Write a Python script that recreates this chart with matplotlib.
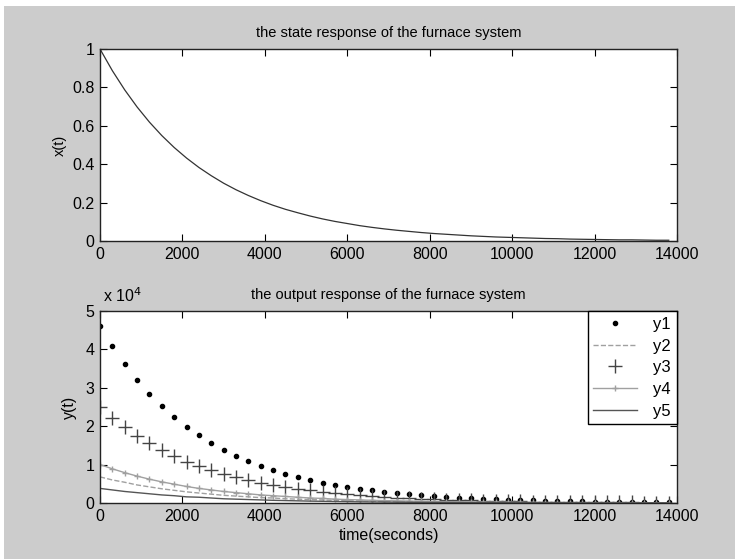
import matplotlib.pyplot as plt
from matplotlib.patches import Rectangle
import numpy as np

plt.rcParams['font.family'] = ['Liberation Sans Narrow', 'Liberation Sans', 'DejaVu Sans']

# sample step of the simulation (seconds)
dt = 300

# state x(t)
x_state = [1.000, 0.887, 0.787, 0.698, 0.619, 0.549, 0.487, 0.432, 0.383, 0.340,
           0.301, 0.267, 0.237, 0.210, 0.186, 0.165, 0.147, 0.130, 0.115, 0.102,
           0.091, 0.080, 0.071, 0.063, 0.056, 0.050, 0.044, 0.039, 0.035, 0.031,
           0.027, 0.024, 0.021, 0.019, 0.017, 0.015, 0.013, 0.012, 0.010, 0.009,
           0.008, 0.007, 0.006, 0.006, 0.005, 0.004, 0.004]

# outputs, in units of 1e4
y1 = [4.60, 4.08, 3.62, 3.21, 2.85, 2.53, 2.24, 1.99, 1.76, 1.56,
      1.38, 1.23, 1.09, 0.97, 0.86, 0.76, 0.68, 0.60, 0.53, 0.47,
      0.42, 0.37, 0.33, 0.29, 0.26, 0.23, 0.20, 0.18, 0.16, 0.14,
      0.12, 0.11, 0.10, 0.09, 0.08, 0.07, 0.06, 0.055, 0.05, 0.04,
      0.037, 0.03, 0.03, 0.027, 0.023, 0.02, 0.018]
y2 = [0.68, 0.60, 0.54, 0.47, 0.42, 0.37, 0.33, 0.29, 0.26, 0.23,
      0.20, 0.18, 0.16, 0.14, 0.13, 0.11, 0.10, 0.09, 0.08, 0.07,
      0.06, 0.055, 0.048, 0.043, 0.038, 0.034, 0.030, 0.027, 0.024, 0.021,
      0.018, 0.016, 0.014, 0.013, 0.012, 0.010, 0.009, 0.008, 0.007, 0.006,
      0.005, 0.005, 0.004, 0.004, 0.003, 0.003, 0.003]
y3 = [2.50, 2.22, 1.97, 1.75, 1.55, 1.37, 1.22, 1.08, 0.96, 0.85,
      0.75, 0.67, 0.59, 0.53, 0.47, 0.41, 0.37, 0.33, 0.29, 0.26,
      0.23, 0.20, 0.18, 0.16, 0.14, 0.125, 0.11, 0.10, 0.088, 0.078,
      0.068, 0.06, 0.053, 0.047, 0.042, 0.037, 0.033, 0.03, 0.025, 0.023,
      0.02, 0.018, 0.015, 0.015, 0.013, 0.01, 0.01]
y4 = [1.00, 0.89, 0.79, 0.70, 0.62, 0.55, 0.49, 0.43, 0.38, 0.34,
      0.30, 0.27, 0.24, 0.21, 0.19, 0.17, 0.15, 0.13, 0.12, 0.10,
      0.09, 0.08, 0.07, 0.063, 0.056, 0.05, 0.044, 0.039, 0.035, 0.031,
      0.027, 0.024, 0.021, 0.019, 0.017, 0.015, 0.013, 0.012, 0.010, 0.009,
      0.008, 0.007, 0.006, 0.006, 0.005, 0.004, 0.004]
y5 = [0.38, 0.34, 0.30, 0.27, 0.24, 0.21, 0.19, 0.16, 0.15, 0.13,
      0.11, 0.10, 0.09, 0.08, 0.07, 0.063, 0.056, 0.049, 0.044, 0.039,
      0.035, 0.030, 0.027, 0.024, 0.021, 0.019, 0.017, 0.015, 0.013, 0.012,
      0.010, 0.009, 0.008, 0.007, 0.006, 0.006, 0.005, 0.005, 0.004, 0.003,
      0.003, 0.003, 0.002, 0.002, 0.002, 0.002, 0.002]

xticks = [0, 2000, 4000, 6000, 8000, 10000, 12000, 14000]


def tgrid(vals):
    return np.arange(len(vals)) * dt


W, H = 735, 559
fig = plt.figure(figsize=(W / 100, H / 100), dpi=100, facecolor='white')
# grey matlab window, thin white strip on top and left
fig.patches.append(Rectangle((4 / W, 0), 1, 1 - 6 / H, transform=fig.transFigure,
                             facecolor='#cccccc', edgecolor='none', zorder=-10))

fs = 11.5


def style(ax):
    ax.set_facecolor('white')
    ax.tick_params(direction='in', length=5, width=0.8, top=True, right=True,
                   labelsize=fs, colors='black', pad=4)
    for s in ax.spines.values():
        s.set_linewidth(1.0)
        s.set_color('#222222')


# upper plot
ax1 = fig.add_axes([100 / W, 1 - 241 / H, 577 / W, 192 / H])
ax1.plot(tgrid(x_state), x_state, color='#333333', lw=0.9)
ax1.set_xlim(0, 14000)
ax1.set_ylim(0, 1)
ax1.set_xticks(xticks)
ax1.set_xticklabels([str(v) for v in xticks])
ax1.set_yticks([0, 0.2, 0.4, 0.6, 0.8, 1])
ax1.set_yticklabels(['0', '0.2', '0.4', '0.6', '0.8', '1'])
ax1.set_title('the state response of the furnace system', fontsize=fs - 1, pad=9)
ax1.set_ylabel('x(t)', fontsize=fs - 1, labelpad=4)
style(ax1)

# lower plot
ax2 = fig.add_axes([100 / W, 1 - 503 / H, 577 / W, 192 / H])
ax2.plot(tgrid(y1), y1, '.', color='black', ms=6, label='y1')
ax2.plot(tgrid(y2), y2, '--', color='#a0a0a0', lw=1.0, label='y2')
ax2.plot(tgrid(y3), y3, '+', color='#444444', ms=10, mew=1.0, label='y3')
ax2.plot(tgrid(y4), y4, '-+', color='#a0a0a0', ms=5, lw=1.0, label='y4')
ax2.plot(tgrid(y5), y5, '-', color='#555555', lw=1.0, label='y5')
ax2.set_xlim(0, 14000)
ax2.set_ylim(0, 5)
ax2.set_xticks(xticks)
ax2.set_xticklabels([str(v) for v in xticks])
ax2.set_yticks([0, 1, 2, 3, 4, 5])
ax2.set_yticklabels(['0', '1', '2', '3', '4', '5'])
ax2.set_title('the output response of the furnace system', fontsize=fs - 1, pad=9)
ax2.set_ylabel('y(t)', fontsize=fs, labelpad=6)
ax2.set_xlabel('time(seconds)', fontsize=fs, labelpad=3)
ax2.text(0.005, 1.03, 'x 10$^{4}$', transform=ax2.transAxes, fontsize=fs,
         ha='left', va='bottom')
style(ax2)
leg = ax2.legend(loc='upper right', borderaxespad=0, fancybox=False,
                 framealpha=1, edgecolor='black', fontsize=fs + 0.5,
                 handlelength=2.6, handletextpad=1.0, labelspacing=0.4,
                 borderpad=0.35)
leg.get_frame().set_linewidth(1.0)

fig.savefig('out.png', dpi=100, facecolor=fig.get_facecolor())
